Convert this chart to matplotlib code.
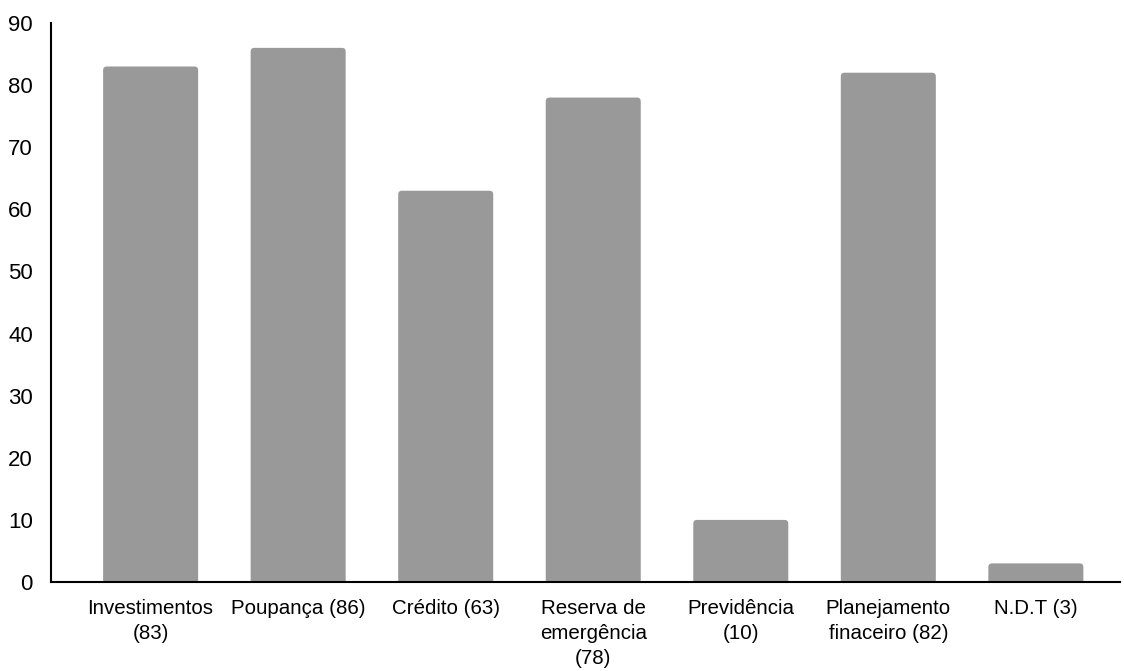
import matplotlib.pyplot as plt
from matplotlib.patches import FancyBboxPatch
import numpy as np

plt.rcParams['font.family'] = ['Liberation Sans', 'DejaVu Sans']

# categories and values
labels = ["Investimentos\n(83)", "Poupança (86)", "Crédito (63)", "Reserva de\nemergência\n(78)",
          "Previdência\n(10)", "Planejamento\nfinaceiro (82)", "N.D.T (3)"]
values = [83, 86, 63, 78, 10, 82, 3]
yticks = [0, 10, 20, 30, 40, 50, 60, 70, 80, 90]

fig = plt.figure(figsize=(11.24, 6.71), dpi=100)
ax = fig.add_axes([0.0454, 0.1326, 0.9510, 0.8331])

x = np.arange(len(values))
bars = ax.bar(x, values, width=0.644, color='#999999')

# slightly rounded tops, like the original
for b in bars:
    bx, by, bw, bh = b.get_x(), b.get_y(), b.get_width(), b.get_height()
    b.set_visible(False)
    p = FancyBboxPatch((bx, by - 1), bw, bh + 1,
                       boxstyle="round,pad=0,rounding_size=0.025",
                       mutation_aspect=24, fc='#999999', ec='none')
    ax.add_patch(p)

ax.set_xlim(-0.675, 6.57)
ax.set_ylim(0, 90)
ax.set_yticks(yticks)
ax.set_xticks(x)
ax.set_xticklabels(labels, fontsize=14.8, linespacing=1.4, va='top')
ax.tick_params(axis='y', length=0, pad=13, labelsize=16)
ax.tick_params(axis='x', length=0, pad=12)

for s in ['top', 'right']:
    ax.spines[s].set_visible(False)
ax.spines['left'].set_linewidth(1.5)
ax.spines['bottom'].set_linewidth(1.5)
ax.spines['bottom'].set_zorder(5)

fig.savefig('out.png', dpi=100)
